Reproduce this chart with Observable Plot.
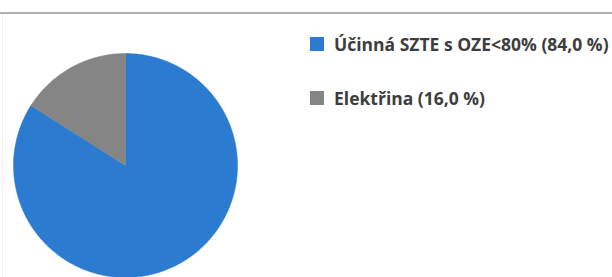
<!DOCTYPE html>
<html>
<head>
<meta charset="utf-8">
<script src="https://cdn.jsdelivr.net/npm/d3@7"></script>
<script src="https://cdn.jsdelivr.net/npm/@observablehq/plot@0.6"></script>
<style>
  html, body { margin: 0; padding: 0; background: #fff; }
  #wrap { position: relative; width: 612px; height: 277px; overflow: hidden; }
  #topline { position: absolute; left: 0; top: 12px; width: 612px; height: 2px; background: #b0b0b0; }
  #leftline { position: absolute; left: 2px; top: 14px; width: 1px; height: 263px; background: #eeeeee; }
  #legend { position: absolute; left: 310px; top: 34px; font-family: "Open Sans", sans-serif; font-weight: 700; font-size: 17.5px; color: #3d3d3d; }
  .item { display: flex; align-items: center; height: 20px; margin-bottom: 34px; white-space: nowrap; }
  .sw { width: 14px; height: 14px; margin-right: 10px; flex: none; }
  #chart { position: absolute; left: 0; top: 0; }
</style>
</head>
<body>
<div id="wrap">
  <div id="chart"></div>
  <div id="topline"></div>
  <div id="leftline"></div>
  <div id="legend"></div>
</div>
<script>
const categories = ["Účinná SZTE s OZE<80%", "Elektřina"];
const values = [84.0, 16.0];
const colors = ["#2b7bd1", "#858585"];

const R = 112;
const arcs = d3.pie().sort(null).value(d => d.value)(
  categories.map((c, i) => ({ name: c, value: values[i], color: colors[i] }))
);

// Build polygon outlines of each slice (angle measured clockwise from 12 o'clock)
const pts = [];
arcs.forEach(a => {
  pts.push({ name: a.data.name, color: a.data.color, x: 0, y: 0 });
  const n = Math.max(2, Math.ceil((a.endAngle - a.startAngle) / (Math.PI / 180)));
  for (let k = 0; k <= n; k++) {
    const t = a.startAngle + (a.endAngle - a.startAngle) * k / n;
    pts.push({ name: a.data.name, color: a.data.color, x: R * Math.sin(t), y: R * Math.cos(t) });
  }
  pts.push({ name: a.data.name, color: a.data.color, x: 0, y: 0 });
});

const chart = Plot.plot({
  width: 612,
  height: 277,
  margin: 0,
  x: { domain: [-125, 487], axis: null },
  y: { domain: [-112, 165], axis: null },
  marks: [
    Plot.line(pts, { x: "x", y: "y", z: "name", fill: "color", stroke: "color", strokeWidth: 0.5, curve: "linear" })
  ]
});
document.getElementById("chart").appendChild(chart);

const fmt = v => v.toFixed(1).replace(".", ",") + " %";
const legend = document.getElementById("legend");
categories.forEach((c, i) => {
  const item = document.createElement("div");
  item.className = "item";
  const sw = document.createElement("span");
  sw.className = "sw";
  sw.style.background = colors[i];
  const tx = document.createElement("span");
  tx.textContent = `${c} (${fmt(values[i])})`;
  item.appendChild(sw);
  item.appendChild(tx);
  legend.appendChild(item);
});
</script>
</body>
</html>
